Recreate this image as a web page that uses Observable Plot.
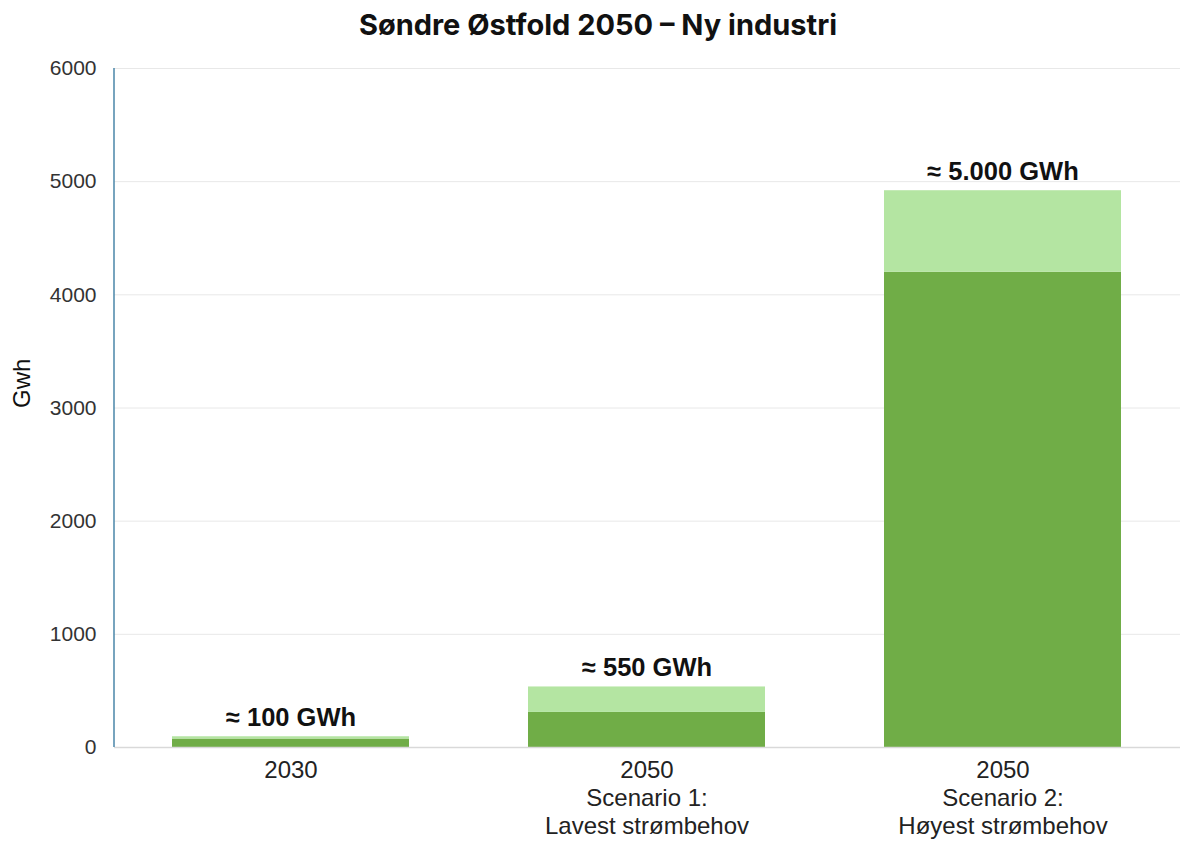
<!DOCTYPE html>
<html>
<head>
<meta charset="utf-8">
<script src="https://cdn.jsdelivr.net/npm/d3@7"></script>
<script src="https://cdn.jsdelivr.net/npm/@observablehq/plot@0.6"></script>
<style>
  body { margin: 0; background: #fff; }
  #title { height: 48px; line-height: 50px; font-family: Inter, "Open Sans", sans-serif; font-weight: 700; font-size: 29px; color: #111; text-align: center; padding-left: 16px; box-sizing: border-box; width: 1180px; white-space: nowrap; }
  #chart svg { display: block; }
</style>
</head>
<body>
<div id="title">Søndre Østfold 2050 – Ny industri</div>
<div id="chart"></div>
<script>
const categories = ["2030", "2050\nScenario 1:\nLavest strømbehov", "2050\nScenario 2:\nHøyest strømbehov"];
const baseValues = [75, 310, 4200];      // dark green
const extraValues = [20, 225, 720];      // light green
const totalLabels = ["≈ 100 GWh", "≈ 550 GWh", "≈ 5.000 GWh"];
const yTicks = [0, 1000, 2000, 3000, 4000, 5000, 6000];
const segments = ["base", "extra"];

const data = [];
categories.forEach((c, i) => {
  data.push({cat: c, seg: "base", value: baseValues[i]});
  data.push({cat: c, seg: "extra", value: extraValues[i]});
});
const totals = categories.map((c, i) => ({cat: c, total: baseValues[i] + extraValues[i], label: totalLabels[i]}));

const leftAxisLine = (index, scales, values, dims) => {
  const x = dims.marginLeft;
  return d3.create("svg:line")
    .attr("x1", x).attr("x2", x)
    .attr("y1", dims.marginTop).attr("y2", dims.height - dims.marginBottom)
    .attr("stroke", "#4a86a8").attr("stroke-width", 1.5)
    .node();
};

const chart = Plot.plot({
  width: 1180,
  height: 794,
  marginTop: 20,
  marginBottom: 95,
  marginLeft: 114,
  marginRight: 0,
  style: {fontFamily: "'Liberation Sans', Arial, sans-serif", background: "#fff"},
  x: {domain: categories, paddingInner: 1/3, paddingOuter: 0.16, label: null},
  y: {domain: [0, 6000], ticks: yTicks, label: null},
  color: {domain: segments, range: ["#70AD47", "#B4E5A2"]},
  marks: [
    Plot.gridY(yTicks, {stroke: "#e8e8e8", strokeOpacity: 1}),
    Plot.barY(data, {x: "cat", y: "value", fill: "seg", order: segments}),
    Plot.ruleY([0], {stroke: "#d9d9d9", strokeWidth: 1.5}),
    leftAxisLine,
    Plot.axisY({ticks: yTicks, tickSize: 0, tickPadding: 18, fontSize: 21, fill: "#333", label: null, tickFormat: d => String(d)}),
    Plot.axisX({tickSize: 0, tickPadding: 10, fontSize: 24, lineHeight: 1.18, fill: "#222", label: null}),
    Plot.text(totals, {x: "cat", y: "total", text: "label", lineAnchor: "bottom", dy: -11, fontSize: 25.5, fontWeight: "bold", fill: "#111"}),
    Plot.text(["Gwh"], {frameAnchor: "left", dx: -92, rotate: -90, fontSize: 24, fill: "#111"})
  ]
});
document.getElementById("chart").appendChild(chart);
</script>
</body>
</html>
